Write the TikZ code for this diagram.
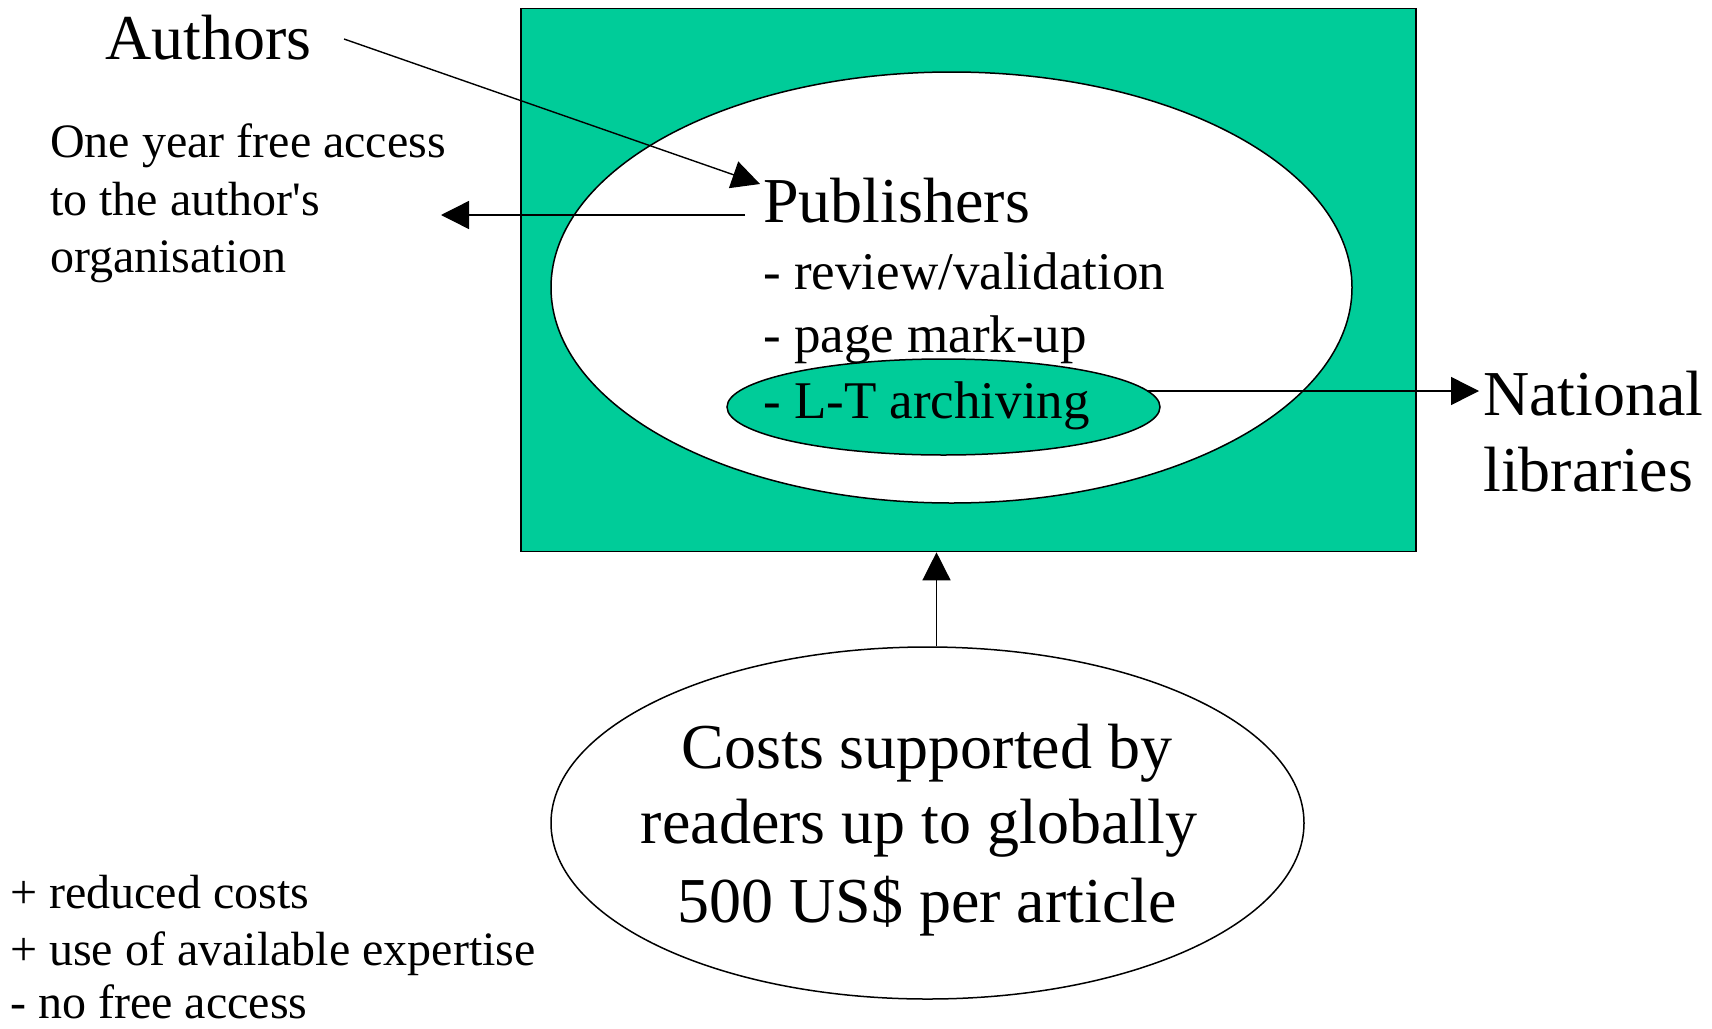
\documentclass[tikz,border=0pt]{standalone}
\usepackage{fontspec}
\setmainfont{Liberation Serif}[Ligatures=TeXOff]
\usetikzlibrary{arrows.meta,shapes.geometric}
\definecolor{pgreen}{HTML}{00CC99}
\begin{document}
\begin{tikzpicture}[x=1pt,y=-1pt,
  big/.style={font=\fontsize{64}{76}\selectfont, inner sep=0pt},
  mid/.style={font=\fontsize{53}{64}\selectfont, inner sep=0pt},
  small/.style={font=\fontsize{48}{58}\selectfont, inner sep=0pt},
  conn/.style={line width=1.4pt, -{Triangle[length=28pt,width=28pt]}},
  outline/.style={draw=black, line width=1.5pt}]
\useasboundingbox[fill=white] (0,0) rectangle (1712,1028);
% main box
\node[outline, fill=pgreen, line width=1.8pt, minimum width=895pt, minimum height=543pt, inner sep=0pt, anchor=north west] (box) at (520,7.5) {};
\node[outline, ellipse, fill=white, minimum width=801pt, minimum height=431pt, inner sep=0pt] (pubell) at (951.5,287.5) {};
\node[outline, ellipse, fill=pgreen, minimum width=433pt, minimum height=96pt, inner sep=0pt] (arch) at (943.5,407) {};
% texts in the box
\node[big, anchor=base west] (pub) at (763,222) {Publishers};
\node[mid, anchor=base west] (rev) at (763,289) {- review/validation};
\node[mid, anchor=base west] (mark) at (763,352) {- page mark-up};
\node[mid, anchor=base west] (lt) at (763,418) {- L-T archiving};
% authors
\node[big, anchor=base west] (authors) at (105,59) {Authors};
\coordinate (authstart) at (344,39);
\coordinate (pubin) at (760,184);
% one year free access
\node[small, anchor=base west] (one1) at (50,157) {One year free access};
\node[small, anchor=base west] (one2) at (50,215) {to the author's};
\node[small, anchor=base west] (one3) at (50,272) {organisation};
\coordinate (pubout) at (745,215);
\coordinate (oneend) at (441,215);
% national libraries
\node[big, anchor=base west] (nat1) at (1483,415) {National};
\node[big, anchor=base west] (nat2) at (1483,491) {libraries};
\coordinate (archout) at (1147,391);
\coordinate (natin) at (1479,391);
% costs ellipse
\node[outline, ellipse, fill=white, minimum width=753pt, minimum height=352pt, inner sep=0pt] (costs) at (927.5,823) {};
\node[big, anchor=base] (c1) at (927,768) {Costs supported by};
\node[big, anchor=base] (c2) at (919,843) {readers up to globally};
\node[big, anchor=base] (c3) at (927,922) {500 US\$ per article};
% bottom list
\node[small, anchor=base west] (l1) at (10,908) {+ reduced costs};
\node[small, anchor=base west] (l2) at (10,965) {+ use of available expertise};
\node[small, anchor=base west] (l3) at (10,1018) {- no free access};
% connectors
\coordinate (costtop) at ([xshift=9pt]costs.north);
\draw[conn] (authstart) -- (pubin);
\draw[conn] (pubout) -- (oneend);
\draw[conn] (archout) -- (natin);
\draw[conn] (costtop) -- (costtop |- box.south);
\end{tikzpicture}
\end{document}
